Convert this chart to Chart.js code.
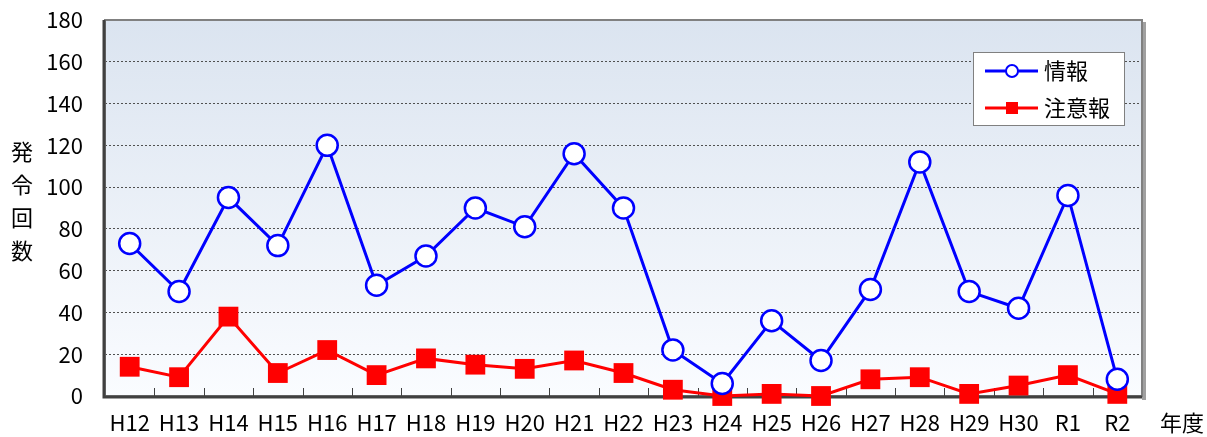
<!DOCTYPE html>
<html>
<head>
<meta charset="utf-8">
<script src="https://cdn.jsdelivr.net/npm/chart.js@4"></script>
<style>
    html, body { margin: 0; padding: 0; background: #fff; }
    #wrap { width: 1207px; height: 437px; }
</style>
</head>
<body>
<div id="wrap"><canvas id="chart" width="1207" height="437"></canvas></div>
<script>
'use strict';

var years = ['H12', 'H13', 'H14', 'H15', 'H16', 'H17', 'H18', 'H19', 'H20', 'H21', 'H22',
    'H23', 'H24', 'H25', 'H26', 'H27', 'H28', 'H29', 'H30', 'R1', 'R2'];
var infoCounts = [73, 50, 95, 72, 120, 53, 67, 90, 81, 116, 90, 22, 6, 36, 17, 51, 112, 50, 42, 96, 8];
var warningCounts = [14, 9, 38, 11, 22, 10, 18, 15, 13, 17, 11, 3, 0, 1, 0, 8, 9, 1, 5, 10, 1];
var yTicks = [0, 20, 40, 60, 80, 100, 120, 140, 160, 180];

var FONT = '"Noto Sans CJK JP", "Noto Sans", sans-serif';

// background gradient, frame, inner ticks, axis titles and legend box
var framePlugin = {
    id: 'frame',
    beforeDraw: function (chart) {
        var ctx = chart.ctx;
        var a = chart.chartArea;
        var grad = ctx.createLinearGradient(0, a.top, 0, a.bottom);
        grad.addColorStop(0, '#dbe4f0');
        grad.addColorStop(1, '#fafcff');
        ctx.save();
        ctx.fillStyle = grad;
        ctx.fillRect(a.left, a.top, a.right - a.left, a.bottom - a.top);
        ctx.restore();
    },
    beforeDatasetsDraw: function (chart) {
        var ctx = chart.ctx;
        var a = chart.chartArea;
        var xs = chart.scales.x;
        ctx.save();
        // shadow on right / bottom
        ctx.fillStyle = '#a0a0a0';
        ctx.fillRect(a.right, a.top + 2, 4, a.bottom - a.top + 2);
        ctx.strokeStyle = '#808080';
        ctx.lineWidth = 2;
        ctx.strokeRect(a.left, a.top, a.right - a.left, a.bottom - a.top);
        ctx.strokeStyle = '#404040';
        ctx.lineWidth = 3;
        ctx.beginPath();
        ctx.moveTo(a.left - 1, a.top);
        ctx.lineTo(a.left - 1, a.bottom + 1);
        ctx.lineTo(a.right, a.bottom + 1);
        ctx.stroke();
        // category boundary ticks pointing up into the plot
        ctx.lineWidth = 1;
        ctx.strokeStyle = '#404040';
        ctx.beginPath();
        for (var i = 1; i < years.length; i++) {
            var x = Math.round((xs.getPixelForValue(i - 1) + xs.getPixelForValue(i)) / 2) + 0.5;
            ctx.moveTo(x, a.bottom);
            ctx.lineTo(x, a.bottom - 8);
        }
        ctx.stroke();
        ctx.restore();
    },
    afterDraw: function (chart) {
        var ctx = chart.ctx;
        ctx.save();
        ctx.fillStyle = '#000';
        ctx.font = '22px ' + FONT;
        ctx.textAlign = 'center';
        ctx.textBaseline = 'middle';
        ['発', '令', '回', '数'].forEach(function (ch, i) {
            ctx.fillText(ch, 22, 152 + i * 33);
        });
        ctx.fillText('年度', 1182, 423);

        // legend
        var lx = 973, ly = 52, lw = 151, lh = 73;
        ctx.fillStyle = '#fff';
        ctx.fillRect(lx, ly, lw, lh);
        ctx.strokeStyle = '#808080';
        ctx.lineWidth = 1;
        ctx.strokeRect(lx + 0.5, ly + 0.5, lw, lh);
        chart.data.datasets.forEach(function (ds, i) {
            var y = ly + 19 + i * 37;
            ctx.strokeStyle = ds.borderColor;
            ctx.lineWidth = 3;
            ctx.beginPath();
            ctx.moveTo(985, y);
            ctx.lineTo(1038, y);
            ctx.stroke();
            if (ds.pointStyle === 'rect') {
                ctx.fillStyle = ds.pointBackgroundColor;
                ctx.fillRect(1012 - 6, y - 6, 12, 12);
            } else {
                ctx.fillStyle = '#fff';
                ctx.lineWidth = 2;
                ctx.beginPath();
                ctx.arc(1012, y, 6, 0, Math.PI * 2);
                ctx.fill();
                ctx.stroke();
            }
            ctx.fillStyle = '#000';
            ctx.textAlign = 'left';
            ctx.font = '22px ' + FONT;
            ctx.fillText(ds.label, 1044, y);
        });
        ctx.restore();
    }
};

new Chart(document.getElementById('chart').getContext('2d'), {
    type: 'line',
    data: {
        labels: years,
        datasets: [{
            label: '情報',
            data: infoCounts,
            borderColor: '#0000ff',
            borderWidth: 3,
            pointStyle: 'circle',
            pointRadius: 10.5,
            pointBorderWidth: 2.5,
            pointBackgroundColor: '#ffffff',
            pointBorderColor: '#0000ff',
            tension: 0
        }, {
            label: '注意報',
            data: warningCounts,
            borderColor: '#ff0000',
            borderWidth: 3,
            pointStyle: 'rect',
            pointRadius: 14,
            pointBorderWidth: 0,
            pointBackgroundColor: '#ff0000',
            pointBorderColor: '#ff0000',
            tension: 0
        }]
    },
    options: {
        responsive: false,
        animation: false,
        devicePixelRatio: 1,
        clip: false,
        layout: { padding: { top: 20, right: 65, left: 0, bottom: 0 } },
        plugins: {
            legend: { display: false },
            tooltip: { enabled: false },
            title: { display: false }
        },
        scales: {
            x: {
                offset: true,
                grid: { display: false, drawTicks: false },
                border: { display: false },
                ticks: { color: '#000', font: { family: FONT, size: 22 }, padding: 13, maxRotation: 0, autoSkip: false },
                afterFit: function (scale) { scale.height = 41; }
            },
            y: {
                min: 0,
                max: 180,
                afterBuildTicks: function (scale) {
                    scale.ticks = yTicks.map(function (v) { return { value: v }; });
                },
                grid: {
                    drawTicks: false,
                    color: function (c) {
                        return (c.tick.value === 0 || c.tick.value === 180) ? 'rgba(0,0,0,0)' : '#505050';
                    },
                    lineWidth: 1
                },
                border: { display: false, dash: [2, 2] },
                ticks: { color: '#000', font: { family: FONT, size: 22 }, padding: 22 },
                afterFit: function (scale) {
                    scale.width = 105;
                    scale.paddingTop = 0;
                    scale.paddingBottom = 0;
                }
            }
        }
    },
    plugins: [framePlugin]
});
</script>
</body>
</html>
